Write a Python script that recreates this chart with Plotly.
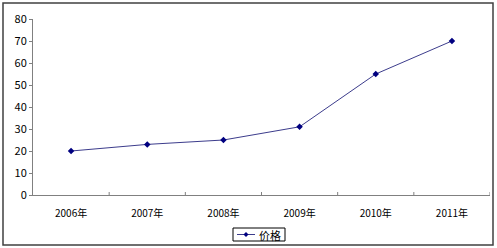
import plotly.graph_objects as go

categories = ["2006年", "2007年", "2008年", "2009年", "2010年", "2011年"]
prices = [20, 23, 25, 31, 55, 70]
series_name = "价格"
y_ticks = [0, 10, 20, 30, 40, 50, 60, 70, 80]

W, H = 497, 248
L, R, T, B = 33, 7, 19, 53
pw, ph = W - L - R, H - T - B

def px_x(x):
    return (x - L) / pw

def px_y(y):
    return (H - B - y) / ph

fam = "SimSun, Noto Sans CJK SC, sans-serif"
font = dict(family=fam, size=10, color="#000000")
line_color = "#3c3c8c"
marker_color = "#000080"

fig = go.Figure()
fig.add_trace(go.Scatter(
    x=list(range(len(categories))), y=prices, name=series_name,
    mode="lines+markers",
    line=dict(color=line_color, width=1),
    marker=dict(symbol="diamond", size=5, color=marker_color),
    showlegend=False,
))

fig.update_layout(
    width=W, height=H, autosize=False,
    margin=dict(l=L, r=R, t=T, b=B, autoexpand=False),
    paper_bgcolor="white", plot_bgcolor="white",
    font=font,
    showlegend=False,
    xaxis=dict(
        range=[-0.5, len(categories) - 0.5],
        tickmode="array",
        tickvals=list(range(len(categories))),
        ticktext=categories,
        showgrid=False, zeroline=False,
        showline=True, linecolor="#808080", linewidth=1,
        ticks="outside", ticklen=9, tickcolor="rgba(0,0,0,0)",
        tickfont=dict(size=10),
        fixedrange=True,
    ),
    yaxis=dict(
        range=[0, 80],
        tickmode="array", tickvals=y_ticks,
        showgrid=False, zeroline=False,
        showline=True, linecolor="#808080", linewidth=1,
        ticks="outside", ticklen=3, tickcolor="#808080",
        tickfont=dict(size=11),
        fixedrange=True,
    ),
)

# outer frame
fig.add_shape(type="rect", xref="paper", yref="paper",
              x0=px_x(3), x1=px_x(493), y0=px_y(245), y1=px_y(3),
              line=dict(color="#404040", width=1.5), fillcolor="rgba(0,0,0,0)",
              layer="below")

# category separator ticks on x axis
for i in range(1, len(categories) + 1):
    fig.add_shape(type="line", xref="x", yref="paper",
                  x0=i - 0.5, x1=i - 0.5, y0=0, y1=px_y(H - B - 3),
                  line=dict(color="#808080", width=1))

# legend box (drawn manually to match the compact Excel-style legend)
lx0, lx1, ly0, ly1 = 233, 285, 228, 241
ym = (ly0 + ly1) / 2
fig.add_shape(type="rect", xref="paper", yref="paper",
              x0=px_x(lx0), x1=px_x(lx1), y0=px_y(ly1), y1=px_y(ly0),
              line=dict(color="#000000", width=1), fillcolor="white")
fig.add_shape(type="line", xref="paper", yref="paper",
              x0=px_x(237), x1=px_x(255), y0=px_y(ym), y1=px_y(ym),
              line=dict(color=line_color, width=1))
mx = 246
fig.add_shape(type="path", xref="paper", yref="paper",
              path=f"M {px_x(mx-2.5)} {px_y(ym)} L {px_x(mx)} {px_y(ym-2.5)} "
                   f"L {px_x(mx+2.5)} {px_y(ym)} L {px_x(mx)} {px_y(ym+2.5)} Z",
              line=dict(color=marker_color, width=0), fillcolor=marker_color)
fig.add_annotation(xref="paper", yref="paper", x=px_x(257), y=px_y(ym),
                   xanchor="left", yanchor="middle", showarrow=False,
                   text=series_name, font=dict(family=fam, size=11, color="#000000"))

fig.write_html("out.html")
